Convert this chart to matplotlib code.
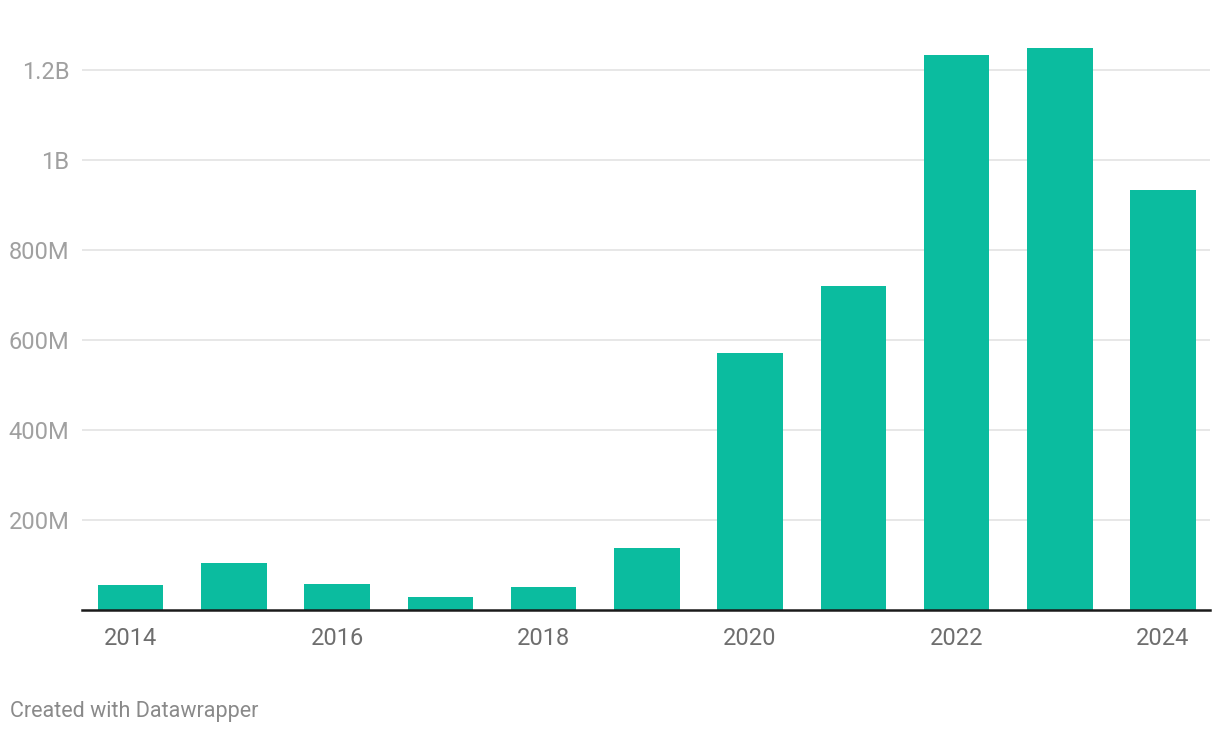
import matplotlib
matplotlib.use("Agg")
import matplotlib.pyplot as plt
from matplotlib.ticker import FuncFormatter

years = [2014, 2015, 2016, 2017, 2018, 2019, 2020, 2021, 2022, 2023, 2024]
values = [56e6, 104e6, 58e6, 29e6, 52e6, 138e6, 571e6, 720e6, 1233e6, 1249e6, 933e6]
y_ticks = [200e6, 400e6, 600e6, 800e6, 1000e6, 1200e6]
x_ticks = [2014, 2016, 2018, 2020, 2022, 2024]

plt.rcParams["font.family"] = ["Roboto", "DejaVu Sans"]

fig = plt.figure(figsize=(12.2, 7.34), dpi=100)
ax = fig.add_axes([82 / 1220, 124 / 734, (1210 - 82) / 1220, 571 / 734])

ax.bar(years, values, width=0.634, color="#0bbc9f", zorder=2)

ax.set_xlim(2014 - 0.47, 2024 + 0.455)
ax.set_ylim(0, 1.269e9)


def fmt(v, pos):
    if v >= 1e9:
        s = f"{v / 1e9:.1f}".rstrip("0").rstrip(".")
        return s + "B"
    return f"{v / 1e6:.0f}M"


ax.set_yticks(y_ticks)
ax.yaxis.set_major_formatter(FuncFormatter(fmt))
ax.set_xticks(x_ticks)
ax.set_xticklabels([str(x) for x in x_ticks])

ax.grid(axis="y", color="#e3e3e3", linewidth=1.2, zorder=0)
ax.tick_params(axis="y", length=0, pad=9, labelsize=17, labelcolor="#a0a0a0")
ax.tick_params(axis="x", length=0, pad=12, labelsize=17, labelcolor="#6e6e6e")

for side in ["top", "right", "left"]:
    ax.spines[side].set_visible(False)
ax.spines["bottom"].set_color("#1a1a1a")
ax.spines["bottom"].set_linewidth(1.8)
ax.spines["bottom"].set_zorder(3)

fig.text(10 / 1220, 1 - 711 / 734, "Created with Datawrapper",
         fontsize=15.5, color="#8a8a8a", ha="left", va="center")

fig.savefig("out.png", dpi=100)
